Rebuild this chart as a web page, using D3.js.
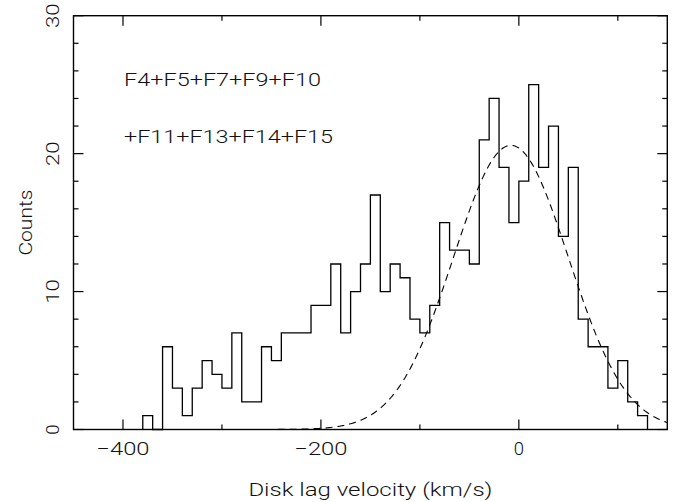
<!DOCTYPE html>
<html>
<head>
<meta charset="utf-8">
<script src="https://cdn.jsdelivr.net/npm/d3@7"></script>
<style>
  html, body { margin: 0; padding: 0; background: #fff; }
  svg { display: block; }
  text { font-family: Roboto, "DejaVu Sans", sans-serif; font-weight: 300; fill: #111; }
</style>
</head>
<body>
<svg id="chart" width="680" height="502"></svg>
<script>
// Histogram of disk lag velocity: lower bin edges (km/s) and counts per 10 km/s bin
const binLower = [
  -380, -370, -360, -350, -340, -330, -320, -310, -300, -290,
  -280, -270, -260, -250, -240, -230, -220, -210, -200, -190,
  -180, -170, -160, -150, -140, -130, -120, -110, -100, -90,
  -80, -70, -60, -50, -40, -30, -20, -10, 0, 10,
  20, 30, 40, 50, 60, 70, 80, 90, 100, 110,
  120
];
const counts = [
  1, 0, 6, 3, 1, 3, 5, 4, 3, 7,
  2, 2, 6, 5, 7, 7, 7, 9, 9, 12,
  7, 10, 12, 17, 10, 12, 11, 8, 7, 9,
  15, 13, 13, 12, 21, 24, 19, 15, 18, 25,
  19, 22, 14, 19, 8, 6, 6, 3, 5, 2,
  1
];
const binWidth = 10;

// Gaussian fit to the disk component
const fitAmplitude = 20.6;
const fitMean = -8;
const fitSigma = 58;

// Axis ticks and labels
const xMajorTicks = [-400, -200, 0];
const xMinorTicks = [-300, -100, 100];
const yMajorTicks = [0, 10, 20, 30];
const yMinorTicks = [2, 4, 6, 8, 12, 14, 16, 18, 22, 24, 26, 28];
const xTitle = "Disk lag velocity (km/s)";
const yTitle = "Counts";
const noteLines = ["F4+F5+F7+F9+F10", "+F11+F13+F14+F15"];

const svg = d3.select("#chart");
const plotLeft = 73.5, plotRight = 667.3, plotTop = 15.7, plotBottom = 429.5;

const x = d3.scaleLinear().domain([-450, 150]).range([plotLeft, plotRight]);
const y = d3.scaleLinear().domain([0, 30]).range([plotBottom, plotTop]);

const fmt = v => (v < 0 ? "\u2212" + Math.abs(v) : String(v));
const charW = 13.3;

// Histogram as a stepped outline
const steps = [];
binLower.forEach((b, i) => {
  steps.push([b, counts[i]]);
  steps.push([b + binWidth, counts[i]]);
});
const firstEdge = binLower[0], lastEdge = binLower[binLower.length - 1] + binWidth;
const histPts = [[firstEdge, 0], ...steps, [lastEdge, 0]];
svg.append("path")
  .attr("d", d3.line().x(d => x(d[0])).y(d => y(d[1]))(histPts))
  .attr("fill", "none")
  .attr("stroke", "#000")
  .attr("stroke-width", 1.3);

// Gaussian model curve, dashed
const gx = d3.range(-450, 150.5, 1);
svg.append("path")
  .attr("d", d3.line()
    .x(v => x(v))
    .y(v => y(fitAmplitude * Math.exp(-0.5 * Math.pow((v - fitMean) / fitSigma, 2))))(gx))
  .attr("fill", "none")
  .attr("stroke", "#000")
  .attr("stroke-width", 1.1)
  .attr("stroke-dasharray", "7,5");

// Frame
svg.append("rect")
  .attr("x", plotLeft).attr("y", plotTop)
  .attr("width", plotRight - plotLeft).attr("height", plotBottom - plotTop)
  .attr("fill", "none").attr("stroke", "#000").attr("stroke-width", 1.4);

// Inward ticks on all four sides
const ticks = svg.append("g").attr("stroke", "#000").attr("stroke-width", 1.2);
const xt = [...xMajorTicks.map(v => [v, 10]), ...xMinorTicks.map(v => [v, 5])];
xt.forEach(([v, len]) => {
  ticks.append("line").attr("x1", x(v)).attr("x2", x(v)).attr("y1", plotBottom).attr("y2", plotBottom - len);
  ticks.append("line").attr("x1", x(v)).attr("x2", x(v)).attr("y1", plotTop).attr("y2", plotTop + len);
});
const yt = [...yMajorTicks.map(v => [v, 10]), ...yMinorTicks.map(v => [v, 5])];
yt.forEach(([v, len]) => {
  ticks.append("line").attr("y1", y(v)).attr("y2", y(v)).attr("x1", plotLeft).attr("x2", plotLeft + len);
  ticks.append("line").attr("y1", y(v)).attr("y2", y(v)).attr("x1", plotRight).attr("x2", plotRight - len);
});

// Tick labels
xMajorTicks.forEach(v => {
  const s = fmt(v);
  const t = svg.append("text")
    .attr("x", x(v)).attr("y", 455)
    .attr("text-anchor", "middle")
    .attr("font-size", 18.5)
    .text(s);
  if (s.length > 1) t.attr("textLength", charW * s.length).attr("lengthAdjust", "spacingAndGlyphs");
});
yMajorTicks.forEach(v => {
  const s = fmt(v);
  const t = svg.append("text")
    .attr("transform", `translate(59,${y(v)}) rotate(-90)`)
    .attr("text-anchor", "middle")
    .attr("font-size", 18.5)
    .text(s);
  if (s.length > 1) t.attr("textLength", charW * s.length - 2).attr("lengthAdjust", "spacingAndGlyphs");
});

// Axis titles
svg.append("text")
  .attr("x", (plotLeft + plotRight) / 2).attr("y", 495.5)
  .attr("text-anchor", "middle")
  .attr("font-size", 18.5)
  .attr("textLength", 244).attr("lengthAdjust", "spacingAndGlyphs")
  .text(xTitle);
svg.append("text")
  .attr("transform", `translate(31.5,${(plotTop + plotBottom) / 2}) rotate(-90)`)
  .attr("text-anchor", "middle")
  .attr("font-size", 18.5)
  .attr("textLength", 66).attr("lengthAdjust", "spacingAndGlyphs")
  .text(yTitle);

// Field annotation
const noteWidths = [197, 209];
const noteBase = [86, 143.3];
noteLines.forEach((s, i) => {
  svg.append("text")
    .attr("x", 124).attr("y", noteBase[i])
    .attr("font-size", 18.5)
    .attr("textLength", noteWidths[i]).attr("lengthAdjust", "spacingAndGlyphs")
    .text(s);
});
</script>
</body>
</html>
